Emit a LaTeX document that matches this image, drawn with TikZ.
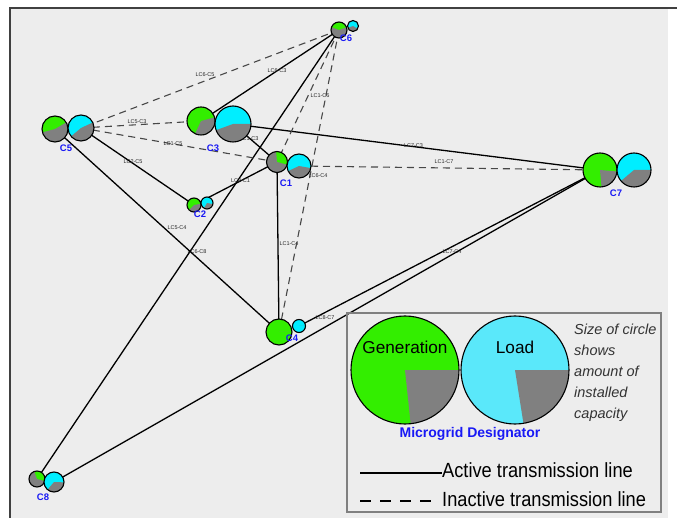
\documentclass[tikz,border=0pt]{standalone}
\usepackage{fontspec}
\setmainfont{Liberation Sans}
\newfontfamily\narrowsans[FakeStretch=0.89]{Liberation Sans}
\usetikzlibrary{positioning}

\definecolor{gengreen}{RGB}{51,238,0}
\definecolor{loadcyan}{RGB}{0,238,255}
\definecolor{keycyan}{RGB}{90,232,250}
\definecolor{capgrey}{RGB}{128,128,128}
\definecolor{panelgrey}{RGB}{237,237,237}
\definecolor{mgblue}{RGB}{25,25,245}

% pie circle: node, radius, colour, grey slice from, grey slice to
\newcommand{\drawpie}[5]{%
  \fill[#3] (#1.center) circle[radius=#2pt];
  \fill[capgrey] (#1.center) -- ++(#4:#2pt) arc[start angle=#4, end angle=#5, radius=#2pt] -- cycle;
  \draw[pieline] (#1.center) circle[radius=#2pt];
}

\begin{document}
\begin{tikzpicture}[
    x=1pt, y=1pt,
    mgcircle/.style={circle, inner sep=0pt, outer sep=0pt},
    pieline/.style={draw=black, line width=1.1pt},
    mgname/.style={text=mgblue, font=\bfseries\fontsize{9.5}{10}\selectfont, inner sep=0pt},
    activeline/.style={draw=black, line width=1.3pt},
    inactiveline/.style={draw=black!72, line width=1.1pt, dash pattern=on 7pt off 5pt},
    linelabel/.style={font=\fontsize{5.5}{6}\selectfont, text=black!85, inner sep=0pt},
    keytext/.style={font=\narrowsans\fontsize{20.5}{22}\selectfont, inner sep=0pt},
    pietext/.style={font=\fontsize{17.2}{18}\selectfont, inner sep=0pt}
  ]
  \useasboundingbox (0,0) rectangle (677,-518);

  % panel
  \fill[panelgrey] (10,-8) rectangle (668,-518);
  \draw[black!75, line width=2pt] (10,-518) -- (10,-8) -- (677,-8);

  % microgrids (generation / load)
  \node[mgcircle, minimum size=16pt] (c6g) at (339,-30) {};
  \node[mgcircle, minimum size=11pt] (c6l) at (353,-26) {};
  \node[mgcircle, minimum size=26pt] (c5g) at (55,-129) {};
  \node[mgcircle, minimum size=26pt] (c5l) at (81,-128) {};
  \node[mgcircle, minimum size=28pt] (c3g) at (201,-121) {};
  \node[mgcircle, minimum size=36pt] (c3l) at (233,-124) {};
  \node[mgcircle, minimum size=21pt] (c1g) at (277,-162) {};
  \node[mgcircle, minimum size=24pt] (c1l) at (299,-166) {};
  \node[mgcircle, minimum size=14pt] (c2g) at (194,-205) {};
  \node[mgcircle, minimum size=12pt] (c2l) at (207,-203) {};
  \node[mgcircle, minimum size=34pt] (c7g) at (600,-170) {};
  \node[mgcircle, minimum size=34pt] (c7l) at (634,-170) {};
  \node[mgcircle, minimum size=26pt] (c4g) at (279,-332) {};
  \node[mgcircle, minimum size=13pt] (c4l) at (299,-326) {};
  \node[mgcircle, minimum size=16pt] (c8g) at (37,-479) {};
  \node[mgcircle, minimum size=20pt] (c8l) at (54,-482) {};

  % active lines
  \draw[activeline] (c6g.center) -- node[linelabel, xshift=7pt, yshift=4.5pt] {LC6-C3} (c3g.center);
  \draw[activeline] (c6g.center) -- node[linelabel, xshift=9pt, yshift=2.5pt] {LC6-C8} (c8g.center);
  \draw[activeline] (c5g.center) -- node[linelabel, xshift=10pt, yshift=2.5pt] {LC5-C4} (c4g.center);
  \draw[activeline] (c5l.center) -- node[linelabel, xshift=-4.5pt, yshift=4.5pt] {LC2-C5} (c2g.center);
  \draw[activeline] (c3l.center) -- node[linelabel, xshift=-6pt, yshift=4pt] {LC1-C3} (c1g.center);
  \draw[activeline] (c3l.center) -- node[linelabel, xshift=-3pt, yshift=1pt] {LC7-C3} (c7g.center);
  \draw[activeline] (c2g.center) -- node[linelabel, xshift=5pt, yshift=2.5pt] {LC2-C1} (c1g.center);
  \draw[activeline] (c1g.center) -- node[linelabel, xshift=11pt, yshift=3pt] {LC1-C4} (c4g.center);
  \draw[activeline] (c4l.center) -- node[linelabel, xshift=2.5pt, yshift=-4pt] {LC7-C4} (c7g.center);
  \draw[activeline] (c8l.center) -- node[linelabel, xshift=-2pt, yshift=8pt] {LC8-C7} (c7g.center);

  % inactive lines
  \draw[inactiveline] (c6g.center) -- node[linelabel, xshift=-5pt, yshift=4pt] {LC6-C5} (c5l.center);
  \draw[inactiveline] (c5l.center) -- node[linelabel, xshift=-4pt, yshift=2.5pt] {LC5-C3} (c3g.center);
  \draw[inactiveline] (c5l.center) -- node[linelabel, xshift=-6pt, yshift=1pt] {LC1-C5} (c1g.center);
  \draw[inactiveline] (c6g.center) -- node[linelabel, xshift=12pt] {LC1-C6} (c1g.center);
  \draw[inactiveline] (c6g.center) -- node[linelabel, xshift=9pt, yshift=5pt] {LC6-C4} (c4g.center);
  \draw[inactiveline] (c1l.center) -- node[linelabel, xshift=-5.5pt, yshift=6pt] {LC1-C7} (c7g.center);

  % pies
  \drawpie{c6g}{8}{gengreen}{160}{380}
  \drawpie{c6l}{5.5}{loadcyan}{200}{330}
  \drawpie{c5g}{13}{gengreen}{195}{390}
  \drawpie{c5l}{13}{loadcyan}{220}{385}
  \drawpie{c3g}{14}{gengreen}{245}{375}
  \drawpie{c3l}{18}{loadcyan}{200}{360}
  \drawpie{c1g}{10.5}{gengreen}{95}{345}
  \drawpie{c1l}{12}{loadcyan}{205}{350}
  \drawpie{c2g}{7}{gengreen}{225}{370}
  \drawpie{c2l}{6}{loadcyan}{240}{350}
  \drawpie{c7g}{17}{gengreen}{275}{355}
  \drawpie{c7l}{17}{loadcyan}{220}{360}
  \drawpie{c4g}{13}{gengreen}{0}{0}
  \drawpie{c4l}{6.5}{loadcyan}{0}{0}
  \drawpie{c8g}{8}{gengreen}{110}{345}
  \drawpie{c8l}{10}{loadcyan}{230}{358}

  % designators
  \node[mgname] (c6name) at (346,-38) {C6};
  \node[mgname] (c5name) at (66,-148) {C5};
  \node[mgname] (c3name) at (213,-148) {C3};
  \node[mgname] (c1name) at (286,-183) {C1};
  \node[mgname] (c2name) at (200,-214) {C2};
  \node[mgname] (c7name) at (616,-193) {C7};
  \node[mgname] (c4name) at (292,-338) {C4};
  \node[mgname] (c8name) at (43,-497) {C8};

  % legend
  \draw[black!50, line width=1.2pt] (347,-313) rectangle (661,-512);
  \node[mgcircle, minimum size=108pt] (keygen) at (405,-370) {};
  \node[mgcircle, minimum size=108pt] (keyload) at (515,-370) {};
  \drawpie{keygen}{54}{gengreen}{276}{360}
  \drawpie{keyload}{54}{keycyan}{279}{360}
  \node[pietext] (gentext) at ([yshift=23pt]keygen.center) {Generation};
  \node[pietext] (loadtext) at ([yshift=23pt]keyload.center) {Load};
  \node[mgname, font=\bfseries\fontsize{14}{15}\selectfont, anchor=base] (keyname) at (470,-437) {Microgrid Designator};
  \node[anchor=north west, align=left, inner sep=0pt, text=black!80,
        font=\itshape\fontsize{14.5}{21}\selectfont] (sizenote) at (574,-324)
        {Size of circle\\shows\\amount of\\installed\\capacity};

  \coordinate (activestart) at (360,-473);
  \coordinate (activeend) at (442,-473);
  \coordinate (inactivestart) at (360,-501);
  \coordinate (inactiveend) at (431,-501);
  \draw[black, line width=1.8pt] (activestart) -- (activeend);
  \draw[black, line width=1.8pt, dash pattern=on 11pt off 9pt] (inactivestart) -- (inactiveend);
  \node[keytext, right=0pt of activeend, yshift=3pt] (activetext) {Active transmission line};
  \node[keytext, right=11pt of inactiveend, yshift=2pt] (inactivetext) {Inactive transmission line};

\end{tikzpicture}
\end{document}
